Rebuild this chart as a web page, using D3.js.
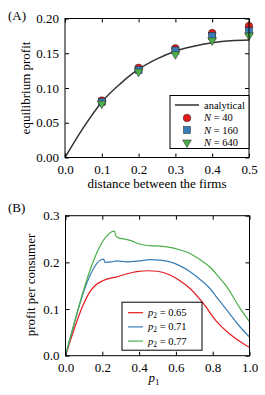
<!DOCTYPE html>
<html>
<head>
<meta charset="utf-8">
<script src="https://cdn.jsdelivr.net/npm/d3@7"></script>
</head>
<body style="margin:0">
<svg id="chart" width="265" height="395" font-family="Liberation Serif"></svg>
<script>
// ---- panel A data ----
var distances = [0.1, 0.2, 0.3, 0.4, 0.5];
var profitN40 = [0.082, 0.129, 0.157, 0.179, 0.189];
var profitN160 = [0.080, 0.126, 0.154, 0.175, 0.182];
var profitN640 = [0.079, 0.125, 0.150, 0.170, 0.177];
var analyticX = [0, 0.05, 0.1, 0.15, 0.2, 0.25, 0.3, 0.35, 0.4, 0.45, 0.5];
var analyticY = [0, 0.043, 0.080, 0.106, 0.127, 0.142, 0.153, 0.160, 0.165, 0.168, 0.169];
var xTicksA = [0.0, 0.1, 0.2, 0.3, 0.4, 0.5];
var yTicksA = [0.00, 0.05, 0.10, 0.15, 0.20];

// ---- panel B data ----
var p1Red = [0, 0.142, 0.16, 0.205, 0.278, 0.33, 0.387, 0.45, 0.5, 0.568, 0.62, 0.677, 0.749, 0.822, 0.894, 0.95, 1.0];
var profitRed = [0, 0.142, 0.150, 0.161, 0.169, 0.175, 0.180, 0.182, 0.181, 0.173, 0.161, 0.144, 0.112, 0.073, 0.046, 0.030, 0.018];
var p1Blue = [0, 0.207, 0.215, 0.25, 0.278, 0.333, 0.4, 0.459, 0.514, 0.568, 0.62, 0.677, 0.73, 0.785, 0.83, 0.876, 0.948, 1.0];
var profitBlue = [0, 0.207, 0.200, 0.201, 0.203, 0.201, 0.203, 0.206, 0.205, 0.201, 0.193, 0.180, 0.164, 0.144, 0.121, 0.098, 0.062, 0.040];
var p1Green = [0, 0.267, 0.272, 0.285, 0.333, 0.36, 0.396, 0.459, 0.514, 0.568, 0.62, 0.677, 0.73, 0.785, 0.83, 0.876, 0.948, 1.0];
var profitGreen = [0, 0.267, 0.258, 0.253, 0.249, 0.246, 0.240, 0.236, 0.235, 0.232, 0.227, 0.219, 0.206, 0.190, 0.170, 0.148, 0.102, 0.073];
var xTicksB = [0.0, 0.2, 0.4, 0.6, 0.8, 1.0];
var yTicksB = [0.0, 0.1, 0.2, 0.3];

var red = '#e41a1c', blue = '#377eb8', green = '#4daf4a';
var fontFace = 'Liberation Serif';

var svg = d3.select('#chart');

// frame helper: inward ticks on all four sides
function drawFrame(g, x, y, xTicks, yTicks, xFmt, yFmt) {
  var w = x.range()[1], h = y.range()[0];
  g.append('g').attr('transform', `translate(0,${h})`)
    .call(d3.axisBottom(x).tickValues(xTicks).tickFormat(xFmt).tickSize(-4).tickPadding(7));
  g.append('g')
    .call(d3.axisTop(x).tickValues(xTicks).tickFormat('').tickSize(-4));
  g.append('g')
    .call(d3.axisLeft(y).tickValues(yTicks).tickFormat(yFmt).tickSize(-4).tickPadding(6));
  g.append('g').attr('transform', `translate(${w},0)`)
    .call(d3.axisRight(y).tickValues(yTicks).tickFormat('').tickSize(-4));
  g.selectAll('.domain').remove();
  g.selectAll('.tick text').attr('fill', '#000').attr('font-size', 13).attr('font-family', fontFace);
  g.selectAll('.tick line').attr('stroke', '#000');
  g.append('rect')
    .attr('width', w).attr('height', h)
    .attr('fill', 'none').attr('stroke', '#000').attr('stroke-width', 1);
}

// ================= panel A =================
var gA = svg.append('g').attr('transform', 'translate(65,18.5)');
var xA = d3.scaleLinear().domain([0, 0.5]).range([0, 184]);
var yA = d3.scaleLinear().domain([0, 0.2]).range([139, 0]);

gA.append('path')
  .datum(analyticX.map((d, i) => [d, analyticY[i]]))
  .attr('fill', 'none').attr('stroke', '#333').attr('stroke-width', 1.5)
  .attr('d', d3.line().x(d => xA(d[0])).y(d => yA(d[1])).curve(d3.curveMonotoneX));

var markers = gA.append('g');
markers.selectAll('circle')
  .data(distances)
  .enter().append('circle')
  .attr('cx', d => xA(d))
  .attr('cy', (d, i) => yA(profitN40[i]))
  .attr('r', 3.8)
  .attr('fill', red).attr('stroke', '#222').attr('stroke-width', 0.5);
markers.selectAll('rect.sq')
  .data(distances)
  .enter().append('rect').attr('class', 'sq')
  .attr('x', d => xA(d) - 3.5)
  .attr('y', (d, i) => yA(profitN160[i]) - 3.5)
  .attr('width', 7).attr('height', 7)
  .attr('fill', blue).attr('stroke', '#222').attr('stroke-width', 0.5);
var tri = d3.symbol().type(d3.symbolTriangle).size(34);
markers.selectAll('path.tri')
  .data(distances)
  .enter().append('path').attr('class', 'tri')
  .attr('d', tri)
  .attr('transform', (d, i) => `translate(${xA(d)},${yA(profitN640[i]) + 1}) rotate(180)`)
  .attr('fill', green).attr('stroke', '#222').attr('stroke-width', 0.5);

drawFrame(gA, xA, yA, xTicksA, yTicksA, d3.format('.1f'), d3.format('.2f'));

// legend A
var legA = gA.append('g').attr('transform', 'translate(105,77)');
legA.append('rect').attr('width', 79).attr('height', 53)
  .attr('fill', '#fff').attr('stroke', '#000').attr('stroke-width', 1);
legA.append('line').attr('x1', 5).attr('x2', 29).attr('y1', 9.5).attr('y2', 9.5)
  .attr('stroke', '#333').attr('stroke-width', 1.5);
legA.append('text').attr('x', 34).attr('y', 13).attr('font-size', 10.5).text('analytical');
legA.append('circle').attr('cx', 17).attr('cy', 22.5).attr('r', 3.8)
  .attr('fill', red).attr('stroke', '#222').attr('stroke-width', 0.5);
legA.append('rect').attr('x', 13.5).attr('y', 31).attr('width', 7).attr('height', 7)
  .attr('fill', blue).attr('stroke', '#222').attr('stroke-width', 0.5);
legA.append('path').attr('d', tri).attr('transform', 'translate(17,47) rotate(180)')
  .attr('fill', green).attr('stroke', '#222').attr('stroke-width', 0.5);
[['40', 26], ['160', 38.5], ['640', 51]].forEach(function(r) {
  var t = legA.append('text').attr('x', 34).attr('y', r[1] - 0.5).attr('font-size', 10.5);
  t.append('tspan').attr('font-style', 'italic').text('N');
  t.append('tspan').text(' = ' + r[0]);
});

// axis labels A
svg.append('text').attr('x', 8).attr('y', 20).attr('font-size', 13).text('(A)');
svg.append('text').attr('x', 157).attr('y', 188).attr('font-size', 13)
  .attr('text-anchor', 'middle').text('distance between the firms');
svg.append('text').attr('transform', 'translate(30,88) rotate(-90)').attr('font-size', 13)
  .attr('text-anchor', 'middle').text('equilibrium profit');

// ================= panel B =================
var gB = svg.append('g').attr('transform', 'translate(65.5,215.7)');
var xB = d3.scaleLinear().domain([0, 1]).range([0, 184]);
var yB = d3.scaleLinear().domain([0, 0.3]).range([140, 0]);
var lineB = d3.line().x(d => xB(d[0])).y(d => yB(d[1])).curve(d3.curveMonotoneX);

var series = [
  { x: p1Red, y: profitRed, c: red, label: '0.65' },
  { x: p1Blue, y: profitBlue, c: blue, label: '0.71' },
  { x: p1Green, y: profitGreen, c: green, label: '0.77' }
];
series.forEach(function(s) {
  gB.append('path')
    .datum(s.x.map((d, i) => [d, s.y[i]]))
    .attr('fill', 'none').attr('stroke', s.c).attr('stroke-width', 1.2)
    .attr('d', lineB);
});

drawFrame(gB, xB, yB, xTicksB, yTicksB, d3.format('.1f'), d3.format('.1f'));

// legend B
var legB = gB.append('g').attr('transform', 'translate(56.5,86.5)');
legB.append('rect').attr('width', 80).attr('height', 48)
  .attr('fill', '#fff').attr('stroke', '#000').attr('stroke-width', 1);
series.forEach(function(s, i) {
  var yy = 10.5 + i * 14.2;
  legB.append('line').attr('x1', 6).attr('x2', 21).attr('y1', yy).attr('y2', yy)
    .attr('stroke', s.c).attr('stroke-width', 1.2);
  var t = legB.append('text').attr('x', 26).attr('y', yy + 3.5).attr('font-size', 10.5);
  t.append('tspan').attr('font-style', 'italic').text('p');
  t.append('tspan').attr('font-size', 7.5).attr('dy', 2).text('2');
  t.append('tspan').attr('dy', -2).text(' = ' + s.label);
});

// axis labels B
svg.append('text').attr('x', 8).attr('y', 212).attr('font-size', 13).text('(B)');
var xl = svg.append('text').attr('x', 154).attr('y', 382).attr('font-size', 13)
  .attr('text-anchor', 'middle');
xl.append('tspan').attr('font-style', 'italic').text('p');
xl.append('tspan').attr('font-size', 9).attr('dy', 3).text('1');
svg.append('text').attr('transform', 'translate(35,285) rotate(-90)').attr('font-size', 13)
  .attr('text-anchor', 'middle').text('profit per consumer');

svg.selectAll('text').attr('font-family', fontFace);
</script>
</body>
</html>
